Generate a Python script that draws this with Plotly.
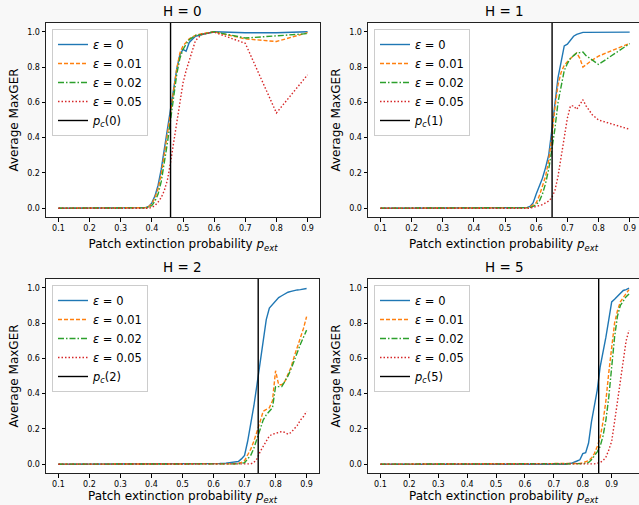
import plotly.graph_objects as go

# ---------------- data ----------------
panel_titles = ["H = 0", "H = 1", "H = 2", "H = 5"]
eps_labels = ["<i>ε</i> = 0", "<i>ε</i> = 0.01", "<i>ε</i> = 0.02", "<i>ε</i> = 0.05"]
pc_labels = ["<i>p</i><sub><i>c</i></sub>(0)", "<i>p</i><sub><i>c</i></sub>(1)",
             "<i>p</i><sub><i>c</i></sub>(2)", "<i>p</i><sub><i>c</i></sub>(5)"]
pc_values = [0.46, 0.651, 0.744, 0.855]

# H = 0
x_h0 = [0.1, 0.2, 0.3, 0.35, 0.37, 0.38, 0.39, 0.40, 0.41, 0.42, 0.43, 0.44, 0.45, 0.46,
        0.47, 0.48, 0.49, 0.50, 0.51, 0.52, 0.54, 0.56, 0.6, 0.7, 0.8, 0.9]
h0_eps0 = [0, 0, 0, 0, 0, 0.003, 0.01, 0.03, 0.07, 0.13, 0.22, 0.33, 0.45, 0.56,
           0.68, 0.79, 0.87, 0.90, 0.89, 0.94, 0.975, 0.985, 1.0, 0.995, 0.995, 1.0]
h0_eps1 = [0, 0, 0, 0, 0, 0.003, 0.01, 0.025, 0.06, 0.11, 0.19, 0.30, 0.42, 0.54,
           0.67, 0.79, 0.88, 0.92, 0.94, 0.96, 0.98, 0.99, 1.0, 0.96, 0.945, 0.995]
h0_eps2 = [0, 0, 0, 0, 0, 0.002, 0.006, 0.015, 0.04, 0.08, 0.15, 0.25, 0.37, 0.50,
           0.64, 0.76, 0.85, 0.90, 0.93, 0.955, 0.98, 0.985, 1.0, 0.965, 0.977, 0.99]
h0_eps5 = [0, 0, 0, 0, 0, 0, 0, 0.005, 0.015, 0.035, 0.06, 0.10, 0.16, 0.26,
           0.37, 0.50, 0.61, 0.71, 0.78, 0.84, 0.95, 0.985, 0.998, 0.935, 0.54, 0.756]

# H = 1
x_h1 = [0.1, 0.2, 0.3, 0.4, 0.5, 0.55, 0.57, 0.58, 0.59, 0.60, 0.61, 0.62, 0.63, 0.64,
        0.65, 0.66, 0.67, 0.68, 0.69, 0.70, 0.71, 0.72, 0.73, 0.74, 0.75, 0.76, 0.78, 0.8, 0.9]
h1_eps0 = [0, 0, 0, 0, 0, 0, 0.003, 0.01, 0.03, 0.08, 0.12, 0.17, 0.23, 0.30,
           0.44, 0.58, 0.74, 0.83, 0.92, 0.93, 0.955, 0.975, 0.985, 0.99, 0.997, 0.997, 0.997, 0.997, 0.998]
h1_eps1 = [0, 0, 0, 0, 0, 0, 0.002, 0.008, 0.02, 0.03, 0.07, 0.12, 0.18, 0.27,
           0.40, 0.57, 0.70, 0.77, 0.81, 0.83, 0.85, 0.865, 0.88, 0.85, 0.80, 0.815, 0.84, 0.862, 0.935]
h1_eps2 = [0, 0, 0, 0, 0, 0, 0, 0.003, 0.01, 0.02, 0.04, 0.08, 0.14, 0.22,
           0.33, 0.45, 0.60, 0.70, 0.78, 0.82, 0.85, 0.865, 0.88, 0.882, 0.885, 0.865, 0.84, 0.815, 0.933]
h1_eps5 = [0, 0, 0, 0, 0, 0, 0, 0, 0.005, 0.01, 0.015, 0.02, 0.03, 0.04,
           0.06, 0.10, 0.18, 0.29, 0.41, 0.51, 0.58, 0.58, 0.56, 0.59, 0.615, 0.58, 0.53, 0.50, 0.447]

# H = 2
x_h2 = [0.1, 0.2, 0.3, 0.4, 0.5, 0.6, 0.62, 0.64, 0.66, 0.68, 0.69, 0.70, 0.71, 0.72,
        0.73, 0.74, 0.75, 0.76, 0.77, 0.78, 0.79, 0.80, 0.81, 0.82, 0.83, 0.84, 0.85,
        0.86, 0.87, 0.88, 0.89, 0.9]
h2_eps0 = [0, 0, 0, 0, 0, 0.002, 0.004, 0.006, 0.01, 0.015, 0.03, 0.05, 0.13, 0.22,
           0.33, 0.45, 0.58, 0.72, 0.82, 0.885, 0.905, 0.92, 0.945, 0.955, 0.965, 0.975, 0.98,
           0.985, 0.988, 0.99, 0.993, 0.996]
h2_eps1 = [0, 0, 0, 0, 0, 0, 0, 0, 0.002, 0.005, 0.01, 0.02, 0.05, 0.085,
           0.13, 0.18, 0.24, 0.30, 0.31, 0.32, 0.36, 0.53, 0.45, 0.45, 0.47, 0.51, 0.55,
           0.61, 0.66, 0.71, 0.77, 0.837]
h2_eps2 = [0, 0, 0, 0, 0, 0, 0, 0, 0, 0.002, 0.005, 0.008, 0.03, 0.05,
           0.09, 0.14, 0.20, 0.25, 0.28, 0.30, 0.32, 0.44, 0.44, 0.44, 0.47, 0.50, 0.54,
           0.59, 0.64, 0.68, 0.72, 0.76]
h2_eps5 = [0, 0, 0, 0, 0, 0, 0, 0, 0, 0, 0, 0, 0, 0.002,
           0.01, 0.03, 0.07, 0.10, 0.13, 0.16, 0.17, 0.175, 0.18, 0.185, 0.18, 0.17, 0.18,
           0.20, 0.22, 0.25, 0.27, 0.30]

# H = 5
x_h5 = [0.1, 0.2, 0.3, 0.4, 0.5, 0.6, 0.7, 0.74, 0.76, 0.77, 0.78, 0.79, 0.80, 0.81,
        0.82, 0.83, 0.84, 0.85, 0.86, 0.87, 0.88, 0.89, 0.90, 0.91, 0.92, 0.93, 0.94,
        0.95, 0.96]
h5_eps0 = [0, 0, 0, 0, 0, 0, 0, 0, 0.005, 0.01, 0.018, 0.025, 0.06, 0.065,
           0.12, 0.24, 0.33, 0.42, 0.55, 0.63, 0.72, 0.82, 0.92, 0.935, 0.95, 0.97, 0.985,
           0.99, 0.998]
h5_eps1 = [0, 0, 0, 0, 0, 0, 0, 0, 0, 0, 0.002, 0.004, 0.008, 0.012,
           0.02, 0.035, 0.06, 0.10, 0.15, 0.24, 0.36, 0.52, 0.68, 0.80, 0.87, 0.92, 0.945,
           0.97, 0.99]
h5_eps2 = [0, 0, 0, 0, 0, 0, 0, 0, 0, 0, 0, 0, 0.003, 0.005,
           0.01, 0.025, 0.045, 0.07, 0.10, 0.16, 0.25, 0.38, 0.55, 0.72, 0.84, 0.90, 0.925,
           0.95, 0.965]
h5_eps5 = [0, 0, 0, 0, 0, 0, 0, 0, 0, 0, 0, 0, 0, 0,
           0, 0, 0.002, 0.005, 0.01, 0.02, 0.04, 0.08, 0.13, 0.24, 0.36, 0.48, 0.61,
           0.70, 0.76]

x_tick_values = [0.1, 0.2, 0.3, 0.4, 0.5, 0.6, 0.7, 0.8, 0.9]
x_tick_labels = ["0.1", "0.2", "0.3", "0.4", "0.5", "0.6", "0.7", "0.8", "0.9"]
y_tick_values = [0.0, 0.2, 0.4, 0.6, 0.8, 1.0]
y_tick_labels = ["0.0", "0.2", "0.4", "0.6", "0.8", "1.0"]

# ---------------- styling / layout ----------------
W, Hpx = 639, 505
FONT = "DejaVu Sans"
colors = ["#1f77b4", "#ff7f0e", "#2ca02c", "#d62728"]
dashes = ["solid", "4px,2px", "6px,2px,1.5px,2px", "1.5px,2px"]

panels = [
    dict(x=x_h0, ys=[h0_eps0, h0_eps1, h0_eps2, h0_eps5], px=(46, 320), py=(23, 217),
         xr=[0.06, 0.94], right=False),
    dict(x=x_h1, ys=[h1_eps0, h1_eps1, h1_eps2, h1_eps5], px=(368, 639), py=(23, 217),
         xr=[0.06, 0.930], right=True),
    dict(x=x_h2, ys=[h2_eps0, h2_eps1, h2_eps2, h2_eps5], px=(46, 319), py=(279, 473),
         xr=[0.06, 0.94], right=False),
    dict(x=x_h5, ys=[h5_eps0, h5_eps1, h5_eps2, h5_eps5], px=(368, 639), py=(279, 473),
         xr=[0.057, 0.9945], right=True),
]

fig = go.Figure()
layout = dict(
    width=W, height=Hpx,
    margin=dict(l=0, r=0, t=0, b=0),
    paper_bgcolor="#f8f8f8",
    plot_bgcolor="white",
    font=dict(family=FONT, color="black", size=11),
    annotations=[],
)

for i, p in enumerate(panels):
    n = "" if i == 0 else str(i + 1)
    xa, ya = "x" + n, "y" + n
    leg = "legend" if i == 0 else "legend" + str(i + 1)
    for j in range(4):
        fig.add_trace(go.Scatter(
            x=p["x"], y=p["ys"][j], mode="lines", name=eps_labels[j],
            line=dict(color=colors[j], dash=dashes[j], width=1.4),
            xaxis=xa, yaxis=ya, legend=leg))
    fig.add_trace(go.Scatter(
        x=[pc_values[i], pc_values[i]], y=[-0.05, 1.05], mode="lines", name=pc_labels[i],
        line=dict(color="black", width=1.4), xaxis=xa, yaxis=ya, legend=leg))

    xd = [p["px"][0] / W, p["px"][1] / W]
    yd = [1 - p["py"][1] / Hpx, 1 - p["py"][0] / Hpx]
    layout["xaxis" + n] = dict(
        domain=xd, range=p["xr"], anchor=ya,
        tickmode="array", tickvals=x_tick_values, ticktext=x_tick_labels,
        ticks="outside", ticklen=3.5, tickwidth=1, tickcolor="black",
        tickfont=dict(size=8, family=FONT),
        showline=True, linecolor="#222", linewidth=1, mirror=True,
        showgrid=False, zeroline=False, automargin=False,
        title=dict(text="Patch extinction probability <i>p</i><sub><i>ext</i></sub>",
                   font=dict(size=12, family=FONT), standoff=7),
    )
    layout["yaxis" + n] = dict(
        domain=yd, range=[-0.05, 1.05], anchor=xa,
        tickmode="array", tickvals=y_tick_values, ticktext=y_tick_labels,
        ticks="outside", ticklen=3.5, tickwidth=1, tickcolor="black",
        tickfont=dict(size=8, family=FONT),
        showline=True, linecolor="#222", linewidth=1, mirror=not p["right"],
        showgrid=False, zeroline=False, automargin=False,
        title=dict(text="Average MaxGER", font=dict(size=12, family=FONT), standoff=5),
    )
    layout[leg] = dict(
        x=(p["px"][0] + 6) / W, y=1 - (p["py"][0] + 6) / Hpx,
        xanchor="left", yanchor="top", xref="paper", yref="paper",
        bgcolor="rgba(255,255,255,0.85)", bordercolor="#cccccc", borderwidth=1,
        font=dict(size=11.5, family=FONT), itemwidth=30, tracegroupgap=0,
    )
    cx = (p["px"][0] + p["px"][0] + 273) / 2 / W
    layout["annotations"].append(dict(
        text=panel_titles[i], x=cx,
        y=yd[1], xref="paper", yref="paper", xanchor="center", yanchor="bottom",
        yshift=2, showarrow=False, font=dict(size=13.5, family=FONT)))

fig.update_layout(**layout)
fig.write_html("out.html", config={"displayModeBar": False},
               post_script="document.body.style.margin='0';document.body.style.overflow='hidden';")
